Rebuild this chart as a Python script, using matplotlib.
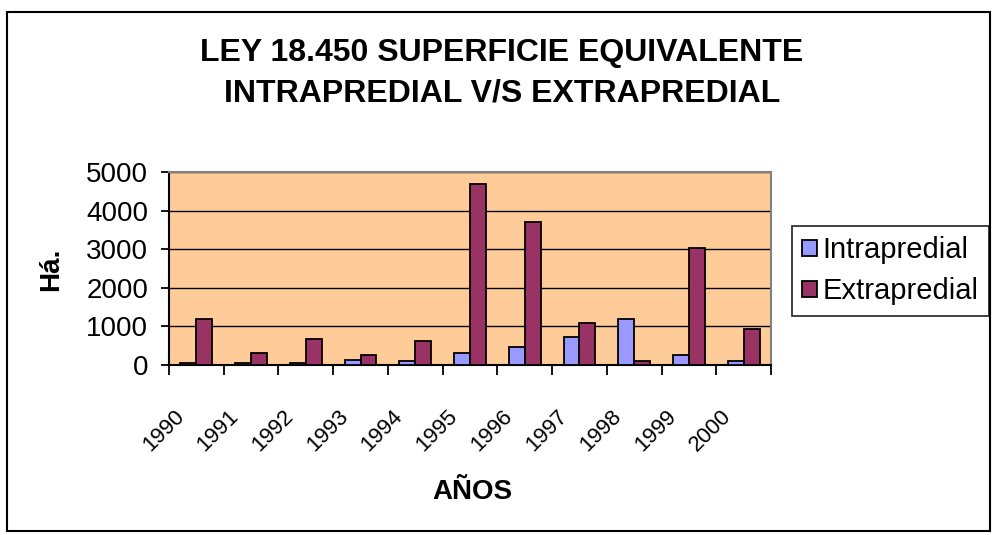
import matplotlib.pyplot as plt
import matplotlib.transforms as mtransforms
import numpy as np

plt.rcParams['font.family'] = ['Liberation Sans', 'DejaVu Sans']

years = ['1990', '1991', '1992', '1993', '1994', '1995', '1996', '1997', '1998', '1999', '2000']
intrapredial = [50, 60, 60, 140, 95, 305, 460, 730, 1195, 260, 95]
extrapredial = [1190, 305, 670, 260, 620, 4700, 3700, 1090, 95, 3030, 930]

W, H = 996, 535
fig = plt.figure(figsize=(W / 100, H / 100), dpi=100)
ax = fig.add_axes([169 / W, 1 - 365 / H, 602 / W, 193 / H])

x = np.arange(len(years))
w = 0.29
ax.bar(x - w / 2, intrapredial, w, color='#9999FF', edgecolor='black', linewidth=1.3,
       label='Intrapredial', zorder=3)
ax.bar(x + w / 2, extrapredial, w, color='#993366', edgecolor='black', linewidth=1.3,
       label='Extrapredial', zorder=3)

ax.set_facecolor('#FFCC99')
ax.set_xlim(-0.5, len(years) - 0.5)
ax.set_ylim(0, 5000)
ax.set_yticks(range(0, 5001, 1000))
ax.yaxis.grid(True, color='black', linewidth=1, zorder=1)
ax.tick_params(axis='y', labelsize=20, length=6, width=1.3, direction='out', pad=9)

# category ticks at group boundaries, labels at the centres
ax.set_xticks(np.arange(-0.5, len(years), 1))
ax.set_xticklabels([])
ax.set_xticks(x, minor=True)
ax.set_xticklabels(years, minor=True, rotation=45, ha='right', va='top', fontsize=16,
                   rotation_mode='anchor')
ax.tick_params(axis='x', which='major', length=7, width=1.3)
ax.tick_params(axis='x', which='minor', length=0, pad=29.5)
shift = mtransforms.ScaledTranslation(-23 / 100, 0, fig.dpi_scale_trans)
for lab in ax.get_xticklabels(minor=True):
    lab.set_transform(lab.get_transform() + shift)

for s in ['top', 'right']:
    ax.spines[s].set_color('#808080')
    ax.spines[s].set_linewidth(1.5)
for s in ['left', 'bottom']:
    ax.spines[s].set_color('black')
    ax.spines[s].set_linewidth(1.5)

fig.text(51 / W, 1 - 269 / H, 'Há.', rotation=90, ha='center', va='center',
         fontsize=20, fontweight='bold')
fig.text(472 / W, 1 - 492 / H, 'AÑOS', ha='center', va='center', fontsize=20, fontweight='bold')
fig.text(502 / W, 1 - 61 / H, 'LEY 18.450 SUPERFICIE EQUIVALENTE', ha='center', va='baseline',
         fontsize=23, fontweight='bold')
fig.text(502 / W, 1 - 101 / H, 'INTRAPREDIAL V/S EXTRAPREDIAL', ha='center', va='baseline',
         fontsize=23, fontweight='bold')

leg = ax.legend(loc='upper left', bbox_to_anchor=(792 / W, 1 - 226 / H),
                bbox_transform=fig.transFigure, fontsize=21, frameon=True, fancybox=False,
                edgecolor='black', handlelength=0.5, handleheight=0.5, handletextpad=0.2,
                borderpad=0.35, labelspacing=0.45, borderaxespad=0)
leg.get_frame().set_linewidth(1.3)

# outer chart border
fig.patches.append(plt.Rectangle((7 / W, 1 - 531 / H), 983 / W, 519 / H, transform=fig.transFigure,
                                 fill=False, edgecolor='black', linewidth=1.5))

fig.savefig('out.png', dpi=100)
